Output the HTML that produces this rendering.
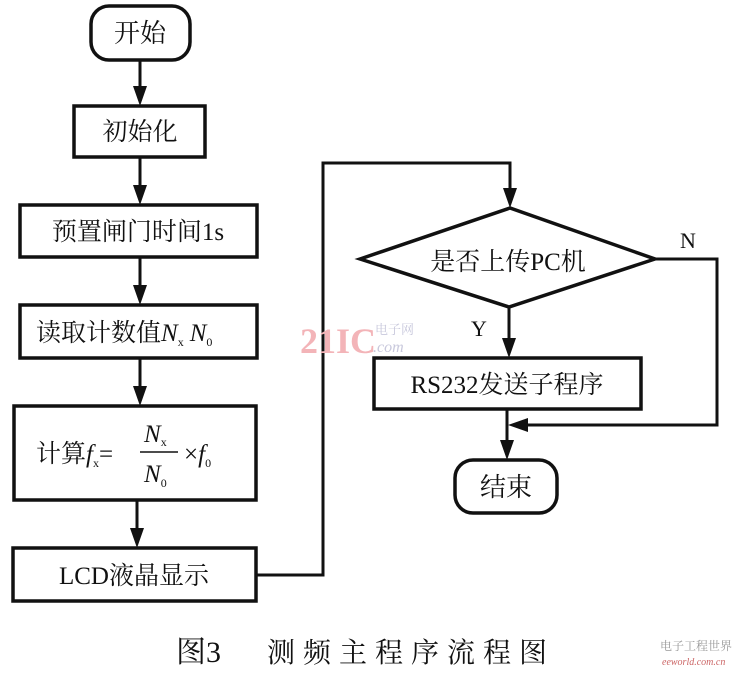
<!DOCTYPE html>
<html><head><meta charset="utf-8"><style>
html,body{margin:0;padding:0;background:#fff;}
svg{display:block;}
text{font-family:"Liberation Serif","Noto Serif CJK SC","Noto Sans CJK SC",serif;fill:#111;}
</style></head><body>
<svg width="734" height="673" viewBox="0 0 734 673" xmlns="http://www.w3.org/2000/svg">
<g stroke="#111" stroke-width="3.5" fill="none">
<rect x="91" y="6" width="99" height="54" rx="18"/>
<rect x="74" y="106" width="131" height="51"/>
<rect x="20" y="205" width="237" height="52"/>
<rect x="20" y="305" width="237" height="53"/>
<rect x="14" y="406" width="242" height="94"/>
<rect x="13" y="548" width="243" height="53"/>
<polygon points="360,259 510,208 655,259 509,307"/>
<rect x="374" y="358" width="267" height="51"/>
<rect x="455" y="460" width="102" height="53" rx="18"/>
<g stroke-width="3">
<line x1="140" y1="60" x2="140" y2="92"/>
<line x1="140" y1="157" x2="140" y2="190"/>
<line x1="140" y1="257" x2="140" y2="290"/>
<line x1="140" y1="358" x2="140" y2="390"/>
<line x1="137" y1="500" x2="137" y2="532"/>
<polyline points="256,575 323,575 323,163 510,163 510,195"/>
<line x1="509" y1="307" x2="509" y2="344"/>
<polyline points="655,259 717,259 717,425 520,425"/>
<line x1="507" y1="409" x2="507" y2="446"/>
</g>
</g>
<g fill="#111">
<polygon points="133,86 147,86 140,106"/>
<polygon points="133,185 147,185 140,205"/>
<polygon points="133,285 147,285 140,305"/>
<polygon points="133,386 147,386 140,406"/>
<polygon points="130,528 144,528 137,548"/>
<polygon points="503,188 517,188 510,208"/>
<polygon points="502,338 516,338 509,358"/>
<polygon points="508,425 528,418 528,432"/>
<polygon points="500,440 514,440 507,460"/>
</g>
<text x="140" y="42" font-size="26" text-anchor="middle">开始</text>
<text x="140" y="140" font-size="25" text-anchor="middle">初始化</text>
<text x="138" y="240" font-size="25" text-anchor="middle">预置闸门时间1s</text>
<text x="36" y="341" font-size="25">读取计数值<tspan font-style="italic">N</tspan><tspan font-size="12" dy="5">x</tspan><tspan font-style="italic" dy="-5" dx="6">N</tspan><tspan font-size="12" dy="5">0</tspan></text>
<text x="36" y="462" font-size="25">计算<tspan font-style="italic">f</tspan><tspan font-size="12" dy="5">x</tspan><tspan dy="-5">=</tspan></text>
<line x1="140" y1="452" x2="178" y2="452" stroke="#111" stroke-width="1.5"/>
<text x="144" y="442" font-size="25" font-style="italic">N<tspan font-size="12" font-style="normal" dy="4">x</tspan></text>
<text x="144" y="482" font-size="25" font-style="italic">N<tspan font-size="12" font-style="normal" dy="5">0</tspan></text>
<text x="184" y="462" font-size="25">×<tspan font-style="italic">f</tspan><tspan font-size="12" dy="5">0</tspan></text>
<text x="134" y="584" font-size="25" text-anchor="middle">LCD液晶显示</text>
<text x="508" y="270" font-size="25" text-anchor="middle">是否上传PC机</text>
<text x="680" y="248" font-size="22">N</text>
<text x="471" y="336" font-size="22">Y</text>
<text x="507" y="393" font-size="25" text-anchor="middle">RS232发送子程序</text>
<text x="506" y="496" font-size="26" text-anchor="middle">结束</text>
<text x="300" y="353" font-size="36" font-weight="bold" style="fill:#f3b4b8" font-family="Liberation Sans,sans-serif">21IC</text>
<text x="375" y="334" font-size="13" style="fill:#c8c8dc" font-family="Noto Sans CJK SC,sans-serif">电子网</text>
<text x="373" y="352" font-size="16" font-style="italic" style="fill:#c8c8dc" font-family="Liberation Sans,sans-serif">.com</text>
<text x="176" y="662" font-size="30">图3</text>
<text x="267" y="662" font-size="28" letter-spacing="8">测频主程序流程图</text>
<text x="660" y="650" font-size="12" style="fill:#999" font-family="Noto Sans CJK SC,sans-serif">电子工程世界</text>
<text x="662" y="665" font-size="10" style="fill:#c66" font-style="italic" font-family="Liberation Sans,sans-serif">eeworld.com.cn</text>
</svg>
</body></html>
